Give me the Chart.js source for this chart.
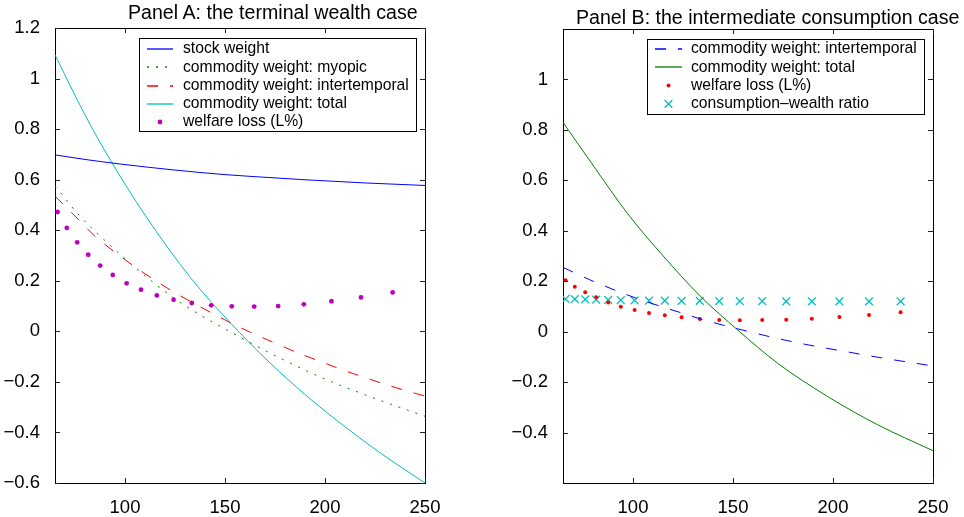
<!DOCTYPE html>
<html lang="en">
<head>
<meta charset="UTF-8">
<title>Panel A / Panel B</title>
<script src="https://cdn.jsdelivr.net/npm/chart.js"></script>
<style>
    html, body { margin: 0; padding: 0; background: #fff; }
    body { width: 964px; height: 517px; position: relative; overflow: hidden; font-family: 'Liberation Sans', Arial, sans-serif; }
    canvas { position: absolute; top: 0; }
    .title { position: absolute; z-index: 2; font-size: 19.6px; line-height: 1; white-space: nowrap; color: #000; }
</style>
</head>
<body>
<canvas id="chartA" style="left:0" width="480" height="517"></canvas>
<canvas id="chartB" style="left:490px" width="474" height="517"></canvas>
<div class="title" style="left:128px; top:3px">Panel A: the terminal wealth case</div>
<div class="title" style="left:576px; top:8px">Panel B: the intermediate consumption case</div>

<script>
// ---- data ----
const xTicks = [100, 150, 200, 250];
const yTicksA = [-0.6, -0.4, -0.2, 0, 0.2, 0.4, 0.6, 0.8, 1, 1.2];
const yTicksB = [-0.4, -0.2, 0, 0.2, 0.4, 0.6, 0.8, 1];

// Panel A: terminal wealth
const stockX = [65, 80, 97.5, 125, 150, 175, 189, 220, 250];
const stockY = [0.698, 0.68, 0.662, 0.638, 0.62, 0.607, 0.6, 0.587, 0.577];

const myopicX = [65, 77, 94, 110, 128, 154.5, 174, 198, 219, 250];
const myopicY = [0.575, 0.46, 0.33, 0.22, 0.112, -0.01, -0.092, -0.182, -0.248, -0.336];

const interA_X = [65, 76.5, 85, 94, 103, 113, 123, 133, 144, 154.5, 165, 176, 187, 198, 209, 220, 231, 244.5, 250];
const interA_Y = [0.535, 0.444, 0.376, 0.319, 0.266, 0.212, 0.162, 0.117, 0.07, 0.027, -0.012, -0.05, -0.087, -0.12, -0.153, -0.183, -0.212, -0.244, -0.256];

const totalA_X = [65, 80, 92.8, 110, 133, 153, 170, 190, 206, 228, 250];
const totalA_Y = [1.094, 0.856, 0.676, 0.46, 0.21, 0.031, -0.106, -0.25, -0.353, -0.483, -0.6];

const dotsX = [66.3, 70.9, 76.1, 81.6, 87.6, 93.9, 100.8, 108, 115.9, 124.3, 133.4, 143.1, 153.4, 164.6, 176.6, 189.4, 203.2, 218, 233.8];
const welfareA = [0.472, 0.409, 0.352, 0.303, 0.26, 0.223, 0.19, 0.165, 0.142, 0.125, 0.112, 0.103, 0.099, 0.098, 0.1, 0.107, 0.119, 0.134, 0.154];

// Panel B: intermediate consumption
const interB_X = [65, 80, 88, 101.5, 114, 124, 134, 144, 157, 169, 181, 192, 205, 217, 229, 250];
const interB_Y = [0.255, 0.2, 0.174, 0.133, 0.1, 0.075, 0.05, 0.028, 0.002, -0.021, -0.042, -0.059, -0.077, -0.094, -0.11, -0.136];

const totalB_X = [65, 80.7, 97.3, 114, 134, 152.3, 172.3, 197.3, 222.3, 250];
const totalB_Y = [0.83, 0.652, 0.468, 0.31, 0.138, 0.007, -0.125, -0.257, -0.369, -0.472];

const welfareB = [0.204, 0.178, 0.156, 0.136, 0.116, 0.099, 0.086, 0.074, 0.065, 0.057, 0.05, 0.046, 0.045, 0.046, 0.047, 0.051, 0.058, 0.066, 0.077];
const cwRatio = [0.13, 0.129, 0.128, 0.127, 0.126, 0.125, 0.124, 0.123, 0.123, 0.122, 0.122, 0.121, 0.121, 0.121, 0.12, 0.12, 0.12, 0.12, 0.12];

// ---- helpers ----
const zip = (xs, ys) => xs.map((x, i) => ({ x: x, y: ys[i] }));
const fmt = v => String(Math.round(v * 10) / 10).replace('-', '\u2212');

Chart.defaults.font.family = "'Liberation Sans', Arial, sans-serif";
Chart.defaults.font.size = 18.5;
Chart.defaults.color = '#000';

// MATLAB-like box ticks pointing into the axes, on all four sides
const inwardTicks = {
    id: 'inwardTicks',
    afterDatasetsDraw(chart) {
        const ctx = chart.ctx;
        const a = chart.chartArea;
        const sx = chart.scales.x, sy = chart.scales.y;
        const len = 5;
        ctx.save();
        ctx.strokeStyle = '#222';
        ctx.lineWidth = 1;
        ctx.setLineDash([]);
        ctx.beginPath();
        xTicks.forEach(v => {
            const px = Math.round(sx.getPixelForValue(v)) + 0.5;
            ctx.moveTo(px, a.bottom); ctx.lineTo(px, a.bottom - len);
            ctx.moveTo(px, a.top); ctx.lineTo(px, a.top + len);
        });
        sy.ticks.forEach(t => {
            const py = Math.round(sy.getPixelForValue(t.value)) + 0.5;
            ctx.moveTo(a.left, py); ctx.lineTo(a.left + len, py);
            ctx.moveTo(a.right, py); ctx.lineTo(a.right - len, py);
        });
        ctx.stroke();
        ctx.restore();
    }
};

// legend drawn as a boxed block inside the axes, MATLAB style
const boxLegend = {
    id: 'boxLegend',
    afterDraw(chart, args, o) {
        const ctx = chart.ctx;
        ctx.save();
        ctx.fillStyle = '#fff';
        ctx.fillRect(o.left, o.top, o.width, o.height);
        ctx.strokeStyle = '#000';
        ctx.lineWidth = 1;
        ctx.setLineDash([]);
        ctx.strokeRect(o.left + 0.5, o.top + 0.5, o.width, o.height);
        ctx.font = o.font;
        ctx.textBaseline = 'middle';
        chart.data.datasets.forEach((ds, i) => {
            const y = o.top + o.firstRow + i * o.rowH;
            const cx = o.sampleX + o.sampleW / 2;
            if (ds.showLine) {
                ctx.strokeStyle = ds.borderColor;
                ctx.lineWidth = 1.3;
                ctx.setLineDash(ds.borderDash || []);
                ctx.beginPath();
                ctx.moveTo(o.sampleX, Math.round(y));
                ctx.lineTo(o.sampleX + o.sampleW, Math.round(y));
                ctx.stroke();
                ctx.setLineDash([]);
            } else if (ds.pointStyle === 'crossRot') {
                const r = ds.pointRadius * Math.SQRT1_2;
                ctx.strokeStyle = ds.pointBorderColor;
                ctx.lineWidth = ds.pointBorderWidth;
                ctx.beginPath();
                ctx.moveTo(cx - r, y - r); ctx.lineTo(cx + r, y + r);
                ctx.moveTo(cx - r, y + r); ctx.lineTo(cx + r, y - r);
                ctx.stroke();
            } else {
                ctx.fillStyle = ds.pointBackgroundColor;
                ctx.beginPath();
                ctx.arc(cx, y, ds.pointRadius, 0, Math.PI * 2);
                ctx.fill();
            }
            ctx.fillStyle = '#000';
            ctx.fillText(ds.label, o.textX, y);
        });
        ctx.restore();
    }
};

function makeScales(yTicks, leftW, rightW, topH, bottomH) {
    const border = { display: true, color: '#000', width: 1 };
    const setX = s => { s.ticks = xTicks.map(v => ({ value: v })); };
    const setY = s => { s.ticks = yTicks.map(v => ({ value: v })); };
    return {
        x: {
            type: 'linear', position: 'bottom', min: 65, max: 250, grid: { display: false }, border: border,
            ticks: { padding: 6, autoSkip: false, maxRotation: 0, callback: v => String(v) },
            afterBuildTicks: setX, afterFit: s => { s.height = bottomH; }
        },
        x2: {
            type: 'linear', position: 'top', min: 65, max: 250, grid: { display: false }, border: border,
            ticks: { display: false },
            afterBuildTicks: setX, afterFit: s => { s.height = topH; }
        },
        y: {
            type: 'linear', position: 'left', min: -0.6, max: 1.2, grid: { display: false }, border: border,
            ticks: { padding: 7, autoSkip: false, callback: v => fmt(v) },
            afterBuildTicks: setY, afterFit: s => { s.width = leftW; }
        },
        y2: {
            type: 'linear', position: 'right', min: -0.6, max: 1.2, grid: { display: false }, border: border,
            ticks: { display: false },
            afterBuildTicks: setY, afterFit: s => { s.width = rightW; }
        }
    };
}

const baseOptions = {
    responsive: false,
    animation: false,
    events: [],
    layout: { padding: 0 },
    plugins: { legend: { display: false }, tooltip: { enabled: false } }
};

const lineDs = (label, xs, ys, color, dash) => ({
    label: label, data: zip(xs, ys), showLine: true, borderColor: color, borderWidth: 1,
    borderDash: dash, pointRadius: 0, cubicInterpolationMode: 'monotone'
});

new Chart(document.getElementById('chartA'), {
    type: 'scatter',
    data: {
        datasets: [
            lineDs('stock weight', stockX, stockY, '#0000ff', []),
            lineDs('commodity weight: myopic', myopicX, myopicY, '#008000', [2, 7]),
            lineDs('commodity weight: intertemporal', interA_X, interA_Y, '#ff0000', [11, 12]),
            lineDs('commodity weight: total', totalA_X, totalA_Y, '#00bfbf', []),
            {
                label: 'welfare loss (L%)', data: zip(dotsX, welfareA), showLine: false,
                pointStyle: 'circle', pointRadius: 2.4, pointBackgroundColor: '#bf00bf', pointBorderWidth: 0
            }
        ]
    },
    options: Object.assign({}, baseOptions, {
        scales: makeScales(yTicksA, 55, 55, 28, 34),
        plugins: Object.assign({}, baseOptions.plugins, {
            boxLegend: {
                left: 139, top: 38, width: 277, height: 93, firstRow: 11, rowH: 18.25,
                sampleX: 147, sampleW: 26, textX: 183, font: "15.7px 'Liberation Sans', Arial, sans-serif"
            }
        })
    }),
    plugins: [inwardTicks, boxLegend]
});

new Chart(document.getElementById('chartB'), {
    type: 'scatter',
    data: {
        datasets: [
            lineDs('commodity weight: intertemporal', interB_X, interB_Y, '#0000ff', [11, 12]),
            lineDs('commodity weight: total', totalB_X, totalB_Y, '#008000', []),
            {
                label: 'welfare loss (L%)', data: zip(dotsX, welfareB), showLine: false,
                pointStyle: 'circle', pointRadius: 2, pointBackgroundColor: '#ff0000', pointBorderWidth: 0
            },
            {
                label: 'consumption\u2013wealth ratio', data: zip(dotsX, cwRatio), showLine: false,
                pointStyle: 'crossRot', pointRadius: 5.5, pointBorderColor: '#00bfbf', pointBorderWidth: 1.2,
                pointBackgroundColor: 'rgba(0,0,0,0)'
            }
        ]
    },
    options: Object.assign({}, baseOptions, {
        scales: makeScales(yTicksB, 73, 31, 29, 34),
        plugins: Object.assign({}, baseOptions.plugins, {
            boxLegend: {
                left: 157, top: 39, width: 277, height: 75, firstRow: 10, rowH: 18.3,
                sampleX: 165, sampleW: 27, textX: 201, font: "15.7px 'Liberation Sans', Arial, sans-serif"
            }
        })
    }),
    plugins: [inwardTicks, boxLegend]
});
</script>
</body>
</html>
